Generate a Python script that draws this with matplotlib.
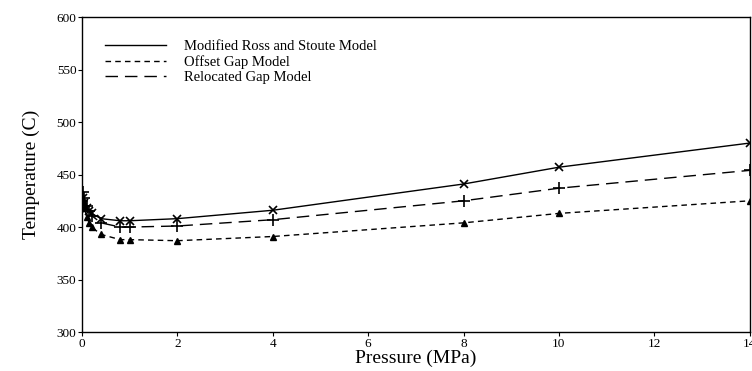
import matplotlib
matplotlib.use('Agg')
import matplotlib.pyplot as plt
from matplotlib.lines import Line2D

plt.rcParams['font.family'] = ['Liberation Serif', 'DejaVu Serif']

# datos
pressure = [0.02, 0.05, 0.1, 0.15, 0.2, 0.4, 0.8, 1.0, 2, 4, 8, 10, 14]
t_ross = [428, 423, 418, 415, 413, 408, 406, 406, 408, 416, 441, 457, 480]
t_reloc = [433, 428, 420, 415, 411, 404, 400, 400, 401, 407, 425, 437, 454]
t_offset = [425, 418, 410, 404, 400, 393, 388, 388, 387, 391, 404, 413, 425]

fig = plt.figure(figsize=(7.52, 3.71), dpi=100)
ax = fig.add_axes([0.109, 0.105, 0.888, 0.849])

ax.plot(pressure, t_ross, 'k-', lw=1.0, marker='x', ms=6, mew=1.2,
        label='Modified Ross and Stoute Model')
ax.plot(pressure, t_offset, 'k', lw=1.0, ls=(0, (4, 3)), marker='^', ms=5,
        label='Offset Gap Model')
ax.plot(pressure, t_reloc, 'k', lw=1.0, ls=(0, (9, 5)), marker='+', ms=8, mew=1.2,
        label='Relocated Gap Model')

ax.set_xlim(0, 14)
ax.set_ylim(300, 600)
ax.set_xticks([0, 2, 4, 6, 8, 10, 12, 14])
ax.set_yticks([300, 350, 400, 450, 500, 550, 600])
ax.tick_params(axis='both', labelsize=9.5, length=3, width=0.8)
ax.tick_params(axis='x', pad=1)
ax.tick_params(axis='y', pad=1)
for s in ax.spines.values():
    s.set_linewidth(1.0)

ax.set_xlabel('Pressure (MPa)', fontsize=14, labelpad=0)
ax.set_ylabel('Temperature (C)', fontsize=14, labelpad=12)

# leyenda sin marcadores
h, l = ax.get_legend_handles_labels()
hs = [Line2D([], [], color='k', lw=1.0) for x in h]
hs[1].set_linestyle((0, (4, 3)))
hs[2].set_linestyle((0, (9, 5)))
ax.legend(hs, l, loc='upper left', bbox_to_anchor=(0.015, 0.97), frameon=False,
          fontsize=10.5, handlelength=4.2, handletextpad=1.2, labelspacing=0.15)

fig.savefig('out.png', dpi=100)
